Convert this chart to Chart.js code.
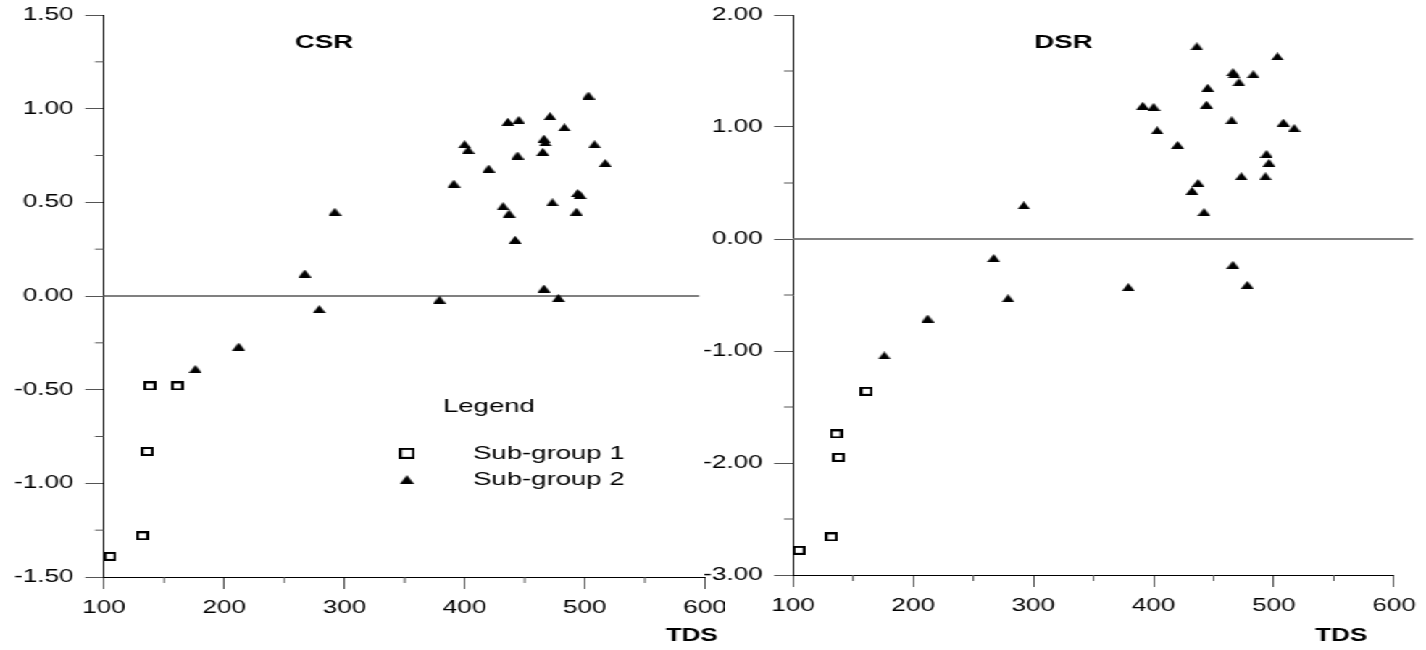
<!DOCTYPE html>
<html>
<head>
<meta charset="utf-8">
<script src="https://cdn.jsdelivr.net/npm/chart.js@4"></script>
<style>
  html, body { margin: 0; padding: 0; background: #fff; overflow: hidden; }
  /* the original figure is stretched sideways, so the drawing is widened as a whole */
  #wrap { position: absolute; left: 0; top: 0; width: 984px; height: 650px;
          transform: scaleX(1.4492); transform-origin: 0 0; }
  .panel { position: absolute; top: 0; height: 650px; }
</style>
</head>
<body>
<div id="wrap">
  <div class="panel" style="left:0;width:500px"><canvas id="csrChart" width="500" height="650"></canvas></div>
  <div class="panel" style="left:480px;width:504px"><canvas id="dsrChart" width="504" height="650"></canvas></div>
</div>
<script>
/* ===== data ===== */
const tdsGroup1 = [105, 132, 136, 138, 161];
const csrGroup1 = [-1.39, -1.28, -0.83, -0.48, -0.48];
const dsrGroup1 = [-2.78, -2.66, -1.74, -1.95, -1.36];

const tdsGroup2 = [176, 212, 267, 279, 292, 379, 391, 400, 403, 420,
                   432, 436, 437, 442, 444, 445, 465, 466, 466, 467,
                   471, 473, 478, 483, 493, 494, 496, 503, 508, 517];
const csrGroup2 = [-0.39, -0.27, 0.12, -0.07, 0.45, -0.02, 0.60, 0.81, 0.78, 0.68,
                   0.48, 0.93, 0.44, 0.30, 0.75, 0.94, 0.77, 0.84, 0.04, 0.82,
                   0.96, 0.50, -0.01, 0.90, 0.45, 0.55, 0.54, 1.07, 0.81, 0.71];
const dsrGroup2 = [-1.04, -0.71, -0.17, -0.53, 0.30, -0.43, 1.19, 1.18, 0.97, 0.84,
                   0.43, 1.72, 0.50, 0.24, 1.20, 1.35, 1.06, -0.23, 1.49, 1.47,
                   1.40, 0.56, -0.41, 1.47, 0.56, 0.76, 0.68, 1.63, 1.04, 0.99];

const groupLabels = ['Sub-group 1', 'Sub-group 2'];
const xTicks = [100, 200, 300, 400, 500, 600];
const csrBaseline = [100, 595];   // zero reference line, TDS span
const dsrBaseline = [100, 616];

/* ===== style ===== */
const FONT = "'Liberation Sans', Arial, sans-serif";
const TICK = '#555';
Chart.defaults.font.family = FONT;
Chart.defaults.color = '#000';

function marker(w, h, draw) {
  const c = document.createElement('canvas');
  c.width = w; c.height = h;
  draw(c.getContext('2d'), w, h);
  return c;
}
const sq = (g, w, h) => { g.fillStyle = '#fff'; g.fillRect(0, 0, w, h);
  g.strokeStyle = '#000'; g.lineWidth = 2; g.strokeRect(1, 1, w - 2, h - 2); };
const tri = (g, w, h) => { g.fillStyle = '#000'; g.beginPath();
  g.moveTo(0, h); g.lineTo(w / 2, 0); g.lineTo(w, h); g.closePath(); g.fill(); };

const squareImg = marker(9, 9, sq);
const triangleImg = marker(9, 8, tri);
const squareBig = marker(11, 11, sq);
const triangleBig = marker(10, 9, tri);

const pts = (xs, ys) => xs.map((x, i) => ({ x, y: ys[i] }));

/* ===== extras: minor ticks, panel title, axis name, legend ===== */
const decor = {
  id: 'decor',
  afterDraw(chart, args, o) {
    const { ctx } = chart;
    const x = chart.scales.x, y = chart.scales.y;
    ctx.save();
    ctx.strokeStyle = TICK;
    ctx.lineWidth = 1;
    const xv = x.ticks.map(t => t.value);
    for (let i = 0; i < xv.length - 1; i++) {
      const px = x.getPixelForValue((xv[i] + xv[i + 1]) / 2);
      ctx.beginPath(); ctx.moveTo(px, y.bottom); ctx.lineTo(px, y.bottom + 6); ctx.stroke();
    }
    const yv = y.ticks.map(t => t.value);
    for (let i = 0; i < yv.length - 1; i++) {
      const py = y.getPixelForValue((yv[i] + yv[i + 1]) / 2);
      ctx.beginPath(); ctx.moveTo(x.left, py); ctx.lineTo(x.left - 6.2, py); ctx.stroke();
    }

    ctx.fillStyle = '#000';
    ctx.textAlign = 'center';
    ctx.textBaseline = 'middle';
    ctx.font = `bold 19px ${FONT}`;
    ctx.fillText(o.title, x.getPixelForValue(o.titleAt[0]), y.getPixelForValue(o.titleAt[1]));
    ctx.font = `bold 18px ${FONT}`;
    ctx.fillText('TDS', x.getPixelForValue(o.axisNameAt), chart.height - 14);

    if (o.legend) {
      const L = o.legend;
      ctx.textAlign = 'left';
      ctx.font = `19px ${FONT}`;
      ctx.fillText('Legend', x.getPixelForValue(L.headX), y.getPixelForValue(L.headY));
      L.rows.forEach((r, i) => {
        const py = y.getPixelForValue(r);
        const img = L.markers[i];
        ctx.drawImage(img, x.getPixelForValue(L.markX) - img.width / 2, py - img.height / 2);
        ctx.fillText(groupLabels[i], x.getPixelForValue(L.textX), py);
      });
    }
    ctx.restore();
  },
};

function panel(id, yMin, yMax, step, g1, g2, base, areaW, padRight, xH, opts) {
  return new Chart(document.getElementById(id), {
    type: 'scatter',
    data: {
      datasets: [
        { data: base.map(v => ({ x: v, y: 0 })), showLine: true, borderColor: '#808080',
          borderWidth: 2, pointRadius: 0, clip: false, order: 3 },
        { label: groupLabels[0], data: pts(tdsGroup1, g1), pointStyle: squareImg, order: 2 },
        { label: groupLabels[1], data: pts(tdsGroup2, g2), pointStyle: triangleImg, order: 1 },
      ],
    },
    options: {
      responsive: false,
      animation: false,
      events: [],
      layout: { padding: { top: 15, right: padRight, left: 0, bottom: 0 } },
      plugins: { legend: { display: false }, tooltip: { enabled: false }, decor: opts },
      scales: {
        x: {
          type: 'linear', min: 100, max: 600,
          afterBuildTicks: s => { s.ticks = xTicks.map(v => ({ value: v })); },
          afterFit: s => { s.height = xH; s.paddingLeft = 0; s.paddingRight = 0; },
          grid: { drawOnChartArea: false, tickLength: 12, tickColor: TICK, tickWidth: 1 },
          border: { color: '#000', width: 1 },
          ticks: { padding: 8, maxRotation: 0, autoSkip: false, font: { size: 18 } },
        },
        y: {
          min: yMin, max: yMax,
          afterFit: s => { s.width = areaW; s.paddingTop = 0; s.paddingBottom = 0; },
          grid: { drawOnChartArea: false, tickLength: 13, tickColor: TICK, tickWidth: 1 },
          border: { color: '#000', width: 1 },
          ticks: { stepSize: step, padding: 8, font: { size: 18 }, callback: v => v.toFixed(2) },
        },
      },
    },
    plugins: [decor],
  });
}

panel('csrChart', -1.5, 1.5, 0.5, csrGroup1, csrGroup2, csrBaseline, 71.8, 13.5, 73, {
  title: 'CSR', titleAt: [283, 1.35], axisNameAt: 589,
  legend: { headX: 382, headY: -0.59, markX: 352, textX: 407, rows: [-0.84, -0.98],
            markers: [squareBig, triangleBig] },
});
panel('dsrChart', -3, 2, 1, dsrGroup1, dsrGroup2, dsrBaseline, 67.2, 22.1, 75, {
  title: 'DSR', titleAt: [325, 1.75], axisNameAt: 556,
});
</script>
</body>
</html>
